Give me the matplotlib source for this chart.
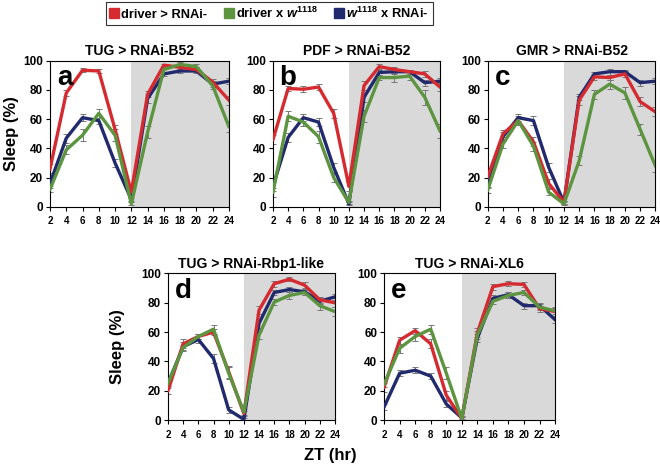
import matplotlib
matplotlib.use("Agg")
import matplotlib.pyplot as plt
from matplotlib.lines import Line2D

plt.rcParams['font.family'] = ['Liberation Sans', 'DejaVu Sans']
plt.rcParams['font.weight'] = 'bold'
plt.rcParams['mathtext.fontset'] = 'custom'
plt.rcParams['mathtext.rm'] = 'Liberation Sans:bold'
plt.rcParams['mathtext.it'] = 'Liberation Sans:italic:bold'

zt = [2, 4, 6, 8, 10, 12, 14, 16, 18, 20, 22, 24]

titles = ["TUG > RNAi-B52", "PDF > RNAi-B52", "GMR > RNAi-B52",
          "TUG > RNAi-Rbp1-like", "TUG > RNAi-XL6"]
letters = ["a", "b", "c", "d", "e"]

# driver > RNAi-
red_a = [26, 78, 93.5, 93, 53, 10, 77, 97, 95.5, 94, 85.5, 73]
red_b = [46, 81, 80.5, 82, 64, 14, 83, 96, 94, 92.5, 91, 82]
red_c = [20.5, 50, 59, 44.5, 16, 3, 73, 89, 88.5, 91, 72, 65]
red_d = [20, 52, 57, 60, 33, 4.5, 75, 93, 96, 92, 82, 80]
red_e = [22.5, 54.5, 61, 52, 17, 1, 59.5, 91, 93, 92.5, 76, 74]
# driver x w1118
grn_a = [12, 39, 49, 64, 49, 2, 51, 94, 97.5, 96, 83, 55]
grn_b = [10, 62, 58, 48, 20, 3, 62, 88.5, 88.5, 89.5, 75, 52]
grn_c = [11.5, 43, 59, 41.5, 10, 2, 31.5, 77, 84, 78, 53, 28]
grn_d = [25, 49.5, 57, 62, 32, 5.5, 58, 80.5, 85, 87, 78, 74]
grn_e = [24.5, 49, 57, 62, 32, 1, 58, 81, 85, 87, 77, 74.5]
# w1118 x RNAi-
blu_a = [16, 47, 61, 59, 30, 5, 74, 91, 93, 93, 84, 86]
blu_b = [14, 47.5, 61, 58, 27, 2, 75, 92, 92.5, 92.5, 85, 86]
blu_c = [16, 48, 61, 59, 27, 3, 75, 91, 92.5, 92.5, 85, 86]
blu_d = [25, 50, 55, 42, 7, 0.5, 66, 87, 89, 87.5, 81, 84]
blu_e = [9, 32, 34, 30, 11, 1.5, 56, 83, 85.5, 78, 78, 68.5]

# SEM
red_a_err = [3, 2, 1.5, 1.5, 3, 2, 2, 1, 1.5, 1.5, 2, 3]
red_b_err = [3, 2, 2, 2, 3, 3, 3, 1.5, 1.5, 1.5, 2, 3]
red_c_err = [3, 2.5, 2, 3, 3, 1, 3, 2, 2, 2, 3, 3]
red_d_err = [2, 3, 2, 2, 4, 2, 3, 2, 1.5, 2, 2, 3]
red_e_err = [3, 2.5, 2, 3, 3, 1, 3, 2, 1.5, 1.5, 2, 3]
grn_a_err = [2, 3, 4, 3, 4, 1, 4, 1.5, 1.5, 1.5, 2, 4]
grn_b_err = [3, 3.5, 3, 4, 3, 1, 4, 2, 3, 3, 5, 5]
grn_c_err = [2, 3, 3, 3, 2, 1, 3, 3, 3, 4, 4, 4]
grn_d_err = [2, 2, 2, 3, 4, 2, 3, 2, 2.5, 2, 3, 3]
grn_e_err = [2, 3, 3, 3, 4, 1, 3, 2, 2, 2, 2, 2]
blu_a_err = [3, 3, 2.5, 2, 3, 1, 3, 1.5, 1.5, 1.5, 2, 2]
blu_b_err = [3, 3, 2.5, 3, 3, 1, 3, 1.5, 1.5, 1.5, 2, 2]
blu_c_err = [3, 3, 2.5, 3, 3, 1, 2, 1.5, 2, 1.5, 2, 2]
blu_d_err = [2, 3, 2.5, 3, 2, 1, 3, 2, 2, 2, 2, 2]
blu_e_err = [2, 2, 2, 2, 2, 1, 3, 2, 2, 2, 2, 2]

reds = [red_a, red_b, red_c, red_d, red_e]
grns = [grn_a, grn_b, grn_c, grn_d, grn_e]
blus = [blu_a, blu_b, blu_c, blu_d, blu_e]
reds_err = [red_a_err, red_b_err, red_c_err, red_d_err, red_e_err]
grns_err = [grn_a_err, grn_b_err, grn_c_err, grn_d_err, grn_e_err]
blus_err = [blu_a_err, blu_b_err, blu_c_err, blu_d_err, blu_e_err]

labels = ["driver > RNAi-", r"driver x $\mathit{w}^{\mathrm{1118}}$",
          r"$\mathit{w}^{\mathrm{1118}}$ x RNAi-"]
c_red = '#d42a30'
c_grn = '#5c9440'
c_blu = '#202a6c'

fig = plt.figure(figsize=(6.6, 4.71), dpi=100)

positions = [
    [0.0758, 0.561, 0.271, 0.310],
    [0.4136, 0.561, 0.253, 0.310],
    [0.739, 0.561, 0.254, 0.310],
    [0.2545, 0.108, 0.253, 0.3115],
    [0.582, 0.108, 0.259, 0.3115],
]

for i in range(5):
    ax = fig.add_axes(positions[i])
    ax.axvspan(12, 24, color='#d9d9d9', zorder=0, lw=0)
    for ys, es, c in [(blus[i], blus_err[i], c_blu), (reds[i], reds_err[i], c_red),
                      (grns[i], grns_err[i], c_grn)]:
        ax.errorbar(zt, ys, yerr=es, fmt='none', ecolor='#777777', elinewidth=0.7,
                    capsize=2.2, capthick=0.7, zorder=2)
        ax.plot(zt, ys, color=c, lw=2.4, zorder=3)
    ax.set_xlim(2, 24)
    ax.set_ylim(0, 100)
    ax.set_xticks(zt)
    ax.set_yticks([0, 20, 40, 60, 80, 100])
    ax.tick_params(axis='x', labelsize=7, length=3, width=0.8, pad=4)
    ax.tick_params(axis='y', labelsize=8.5, length=3, width=0.8, pad=2)
    for lab in ax.get_xticklabels() + ax.get_yticklabels():
        lab.set_fontweight('bold')
    for sp in ax.spines.values():
        sp.set_linewidth(0.8)
    ax.set_title(titles[i], fontsize=10, fontweight='bold', pad=4)
    ax.text(0.04, 0.97, letters[i], transform=ax.transAxes, fontsize=20,
            fontweight='bold', va='top', ha='left')

fig.text(0.017, 0.716, "Sleep (%)", fontsize=12, fontweight='bold', rotation=90,
         ha='center', va='center')
fig.text(0.178, 0.264, "Sleep (%)", fontsize=12, fontweight='bold', rotation=90,
         ha='center', va='center')
fig.text(0.5, 0.033, "ZT (hr)", fontsize=12, fontweight='bold', ha='center', va='center')

handles = [Line2D([], [], marker='s', color=c, ls='none', markersize=7)
           for c in [c_red, c_grn, c_blu]]
leg = fig.legend(handles, labels, loc='center', bbox_to_anchor=(0.408, 0.972), ncol=3,
                 frameon=True, fancybox=False, edgecolor='black', handlelength=0.7,
                 handletextpad=0.2, columnspacing=1.3, borderpad=0.3,
                 prop={'weight': 'bold', 'size': 9.3})
leg.get_frame().set_linewidth(0.8)

fig.savefig("out.png", dpi=100)
